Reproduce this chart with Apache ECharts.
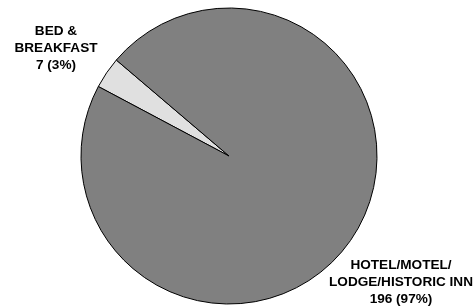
<!DOCTYPE html>
<html>
<head>
<meta charset="utf-8">
<script src="https://cdn.jsdelivr.net/npm/echarts@6/dist/echarts.min.js"></script>
<style>
  html, body { margin: 0; padding: 0; background: #fff; }
  #chart { width: 476px; height: 307px; }
</style>
</head>
<body>
<div id="chart"></div>
<script>
// lodging types and counts
const categories = ['BED &\nBREAKFAST', 'HOTEL/MOTEL/\nLODGE/HISTORIC INN'];
const counts = [7, 196];
const colors = ['#e0e0e0', '#808080'];

const total = counts.reduce((a, b) => a + b, 0);
// where each label sits (center of text block)
const labelSpots = [[56, 48], [401, 282]];

const chart = echarts.init(document.getElementById('chart'));
chart.setOption({
  animation: false,
  series: [{
    type: 'pie',
    center: [229, 156],
    radius: 148,
    startAngle: 152,
    clockwise: true,
    data: categories.map((name, i) => ({
      name: name,
      value: counts[i],
      itemStyle: { color: colors[i] }
    })),
    itemStyle: { borderColor: '#000', borderWidth: 1 },
    label: {
      show: true,
      position: 'outside',
      overflow: 'none',
      width: 200,
      formatter: (p) => p.name + '\n' + p.value + ' (' + Math.round(p.value / total * 100) + '%)',
      fontFamily: 'Liberation Sans, Arial, sans-serif',
      fontWeight: 'bold',
      fontSize: 13.6,
      lineHeight: 16.8,
      color: '#000',
      align: 'center'
    },
    labelLine: { show: false },
    labelLayout: (params) => ({
      x: labelSpots[params.dataIndex][0],
      y: labelSpots[params.dataIndex][1],
      align: 'center',
      verticalAlign: 'middle'
    }),
    emphasis: { disabled: true }
  }]
});
</script>
</body>
</html>
